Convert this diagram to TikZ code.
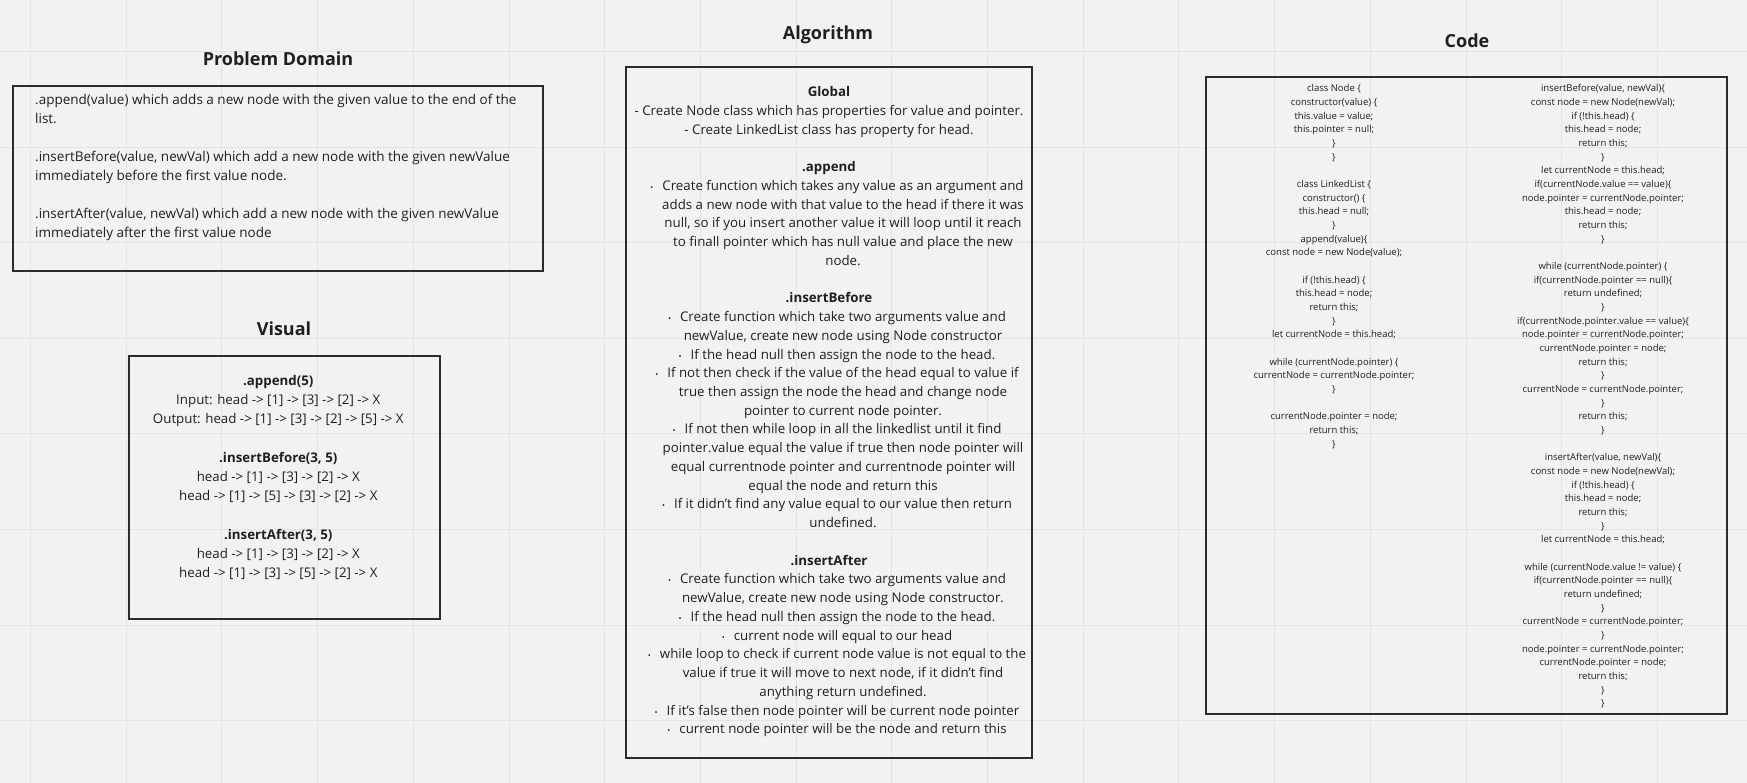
\documentclass[tikz,border=0pt]{standalone}
\usepackage{fontspec}
\setmainfont{Open Sans}
\definecolor{bg}{HTML}{F2F2F2}
\definecolor{gridc}{HTML}{E4E4E4}
\definecolor{ink}{HTML}{1F1F1F}
\definecolor{frame}{HTML}{2B2B2B}
\newcommand\algbul{\llap{\fontsize{8}{8}\selectfont\textbullet\hspace{9pt}}}
\begin{document}
\begin{tikzpicture}[x=1pt,y=-1pt,
  framebox/.style={draw=frame, line width=2pt, inner sep=0pt, outer sep=0pt, anchor=north west},
  titletext/.style={font=\fontsize{18}{22}\selectfont\bfseries, text=ink, inner sep=0pt, anchor=mid},
  bodytext/.style={font=\fontsize{13.3}{16}\selectfont, text=ink, inner sep=0pt, anchor=mid},
  boldtext/.style={font=\fontsize{13.3}{16}\selectfont\bfseries, text=ink, inner sep=0pt, anchor=mid},
  pdtext/.style={font=\fontsize{13.5}{16}\selectfont, text=ink, inner sep=0pt, anchor=mid west},
  codetext/.style={font=\fontsize{9.5}{11}\selectfont, text=ink, inner sep=0pt, anchor=mid}]
\useasboundingbox (0,0) rectangle (1747,783);
\fill[bg] (0,0) rectangle (1747,783);
% grid
\foreach \g in {0,...,17} \draw[gridc, line width=1pt] ({30.5+95.7*\g},0) -- ({30.5+95.7*\g},783);
\foreach \g in {0,...,7} \draw[gridc, line width=1pt] (0,{51.7+95.55*\g}) -- (1747,{51.7+95.55*\g});

% titles
\node[titletext] (tpd) at (278,63) {Problem Domain};
\node[titletext] (tvis) at (284,333) {Visual};
\node[titletext] (talg) at (828,37) {Algorithm};
\node[titletext] (tcode) at (1467,44.5) {Code};

% frames
\node[framebox, minimum width=530.5pt, minimum height=185pt] (pdbox) at (12.6,86) {};
\node[framebox, minimum width=311pt, minimum height=263pt] (visbox) at (129,356) {};
\node[framebox, minimum width=406pt, minimum height=691pt] (algbox) at (626,67) {};
\node[framebox, minimum width=521.5pt, minimum height=637pt] (codebox) at (1205.5,77) {};

% problem domain
\foreach \yy/\t [count=\i] in {
  102/{.append(value) which adds a new node with the given value to the end of the},
  121/{list.},
  159/{.insertBefore(value, newVal) which add a new node with the given newValue},
  178/{immediately before the first value node.},
  216/{.insertAfter(value, newVal) which add a new node with the given newValue},
  235/{immediately after the first value node}}
  \node[pdtext] (pd\i) at (35,\yy) {\t};

% visual
\foreach \yy/\t [count=\i] in {
  383/{.append(5)}, 459.8/{.insertBefore(3, 5)}, 537/{.insertAfter(3, 5)}}
  \node[boldtext] (vh\i) at (278.3,\yy) {\t};
\foreach \yy/\t [count=\i] in {
  402/{Input: head -> [1] -> [3] -> [2] -> X},
  421/{Output: head -> [1] -> [3] -> [2] -> [5] -> X},
  479/{head -> [1] -> [3] -> [2] -> X},
  498/{head -> [1] -> [5] -> [3] -> [2] -> X},
  556/{head -> [1] -> [3] -> [2] -> X},
  575/{head -> [1] -> [3] -> [5] -> [2] -> X}}
  \node[bodytext] (vl\i) at (278.3,\yy) {\t};

% algorithm
\foreach \k/\t in {0/{Global}, 4/{.append}, 11/{.insertBefore}, 25/{.insertAfter}}
  \node[boldtext] (ah\k) at (829,{94+18.74*\k}) {\t};
\foreach \k/\t in {
  1/{- Create Node class which has properties for value and pointer.},
  2/{- Create LinkedList class has property for head.}}
  \node[bodytext] (ag\k) at (829,{94+18.74*\k}) {\t};
\foreach \k/\t in {
  5/{\algbul Create function which takes any value as an argument and},
  6/{adds a new node with that value to the head if there it was},
  7/{null, so if you insert another value it will loop until it reach},
  8/{to finall pointer which has null value and place the new},
  9/{node.},
  12/{\algbul Create function which take two arguments value and},
  13/{newValue, create new node using Node constructor},
  14/{\algbul If the head null then assign the node to the head.},
  15/{\algbul If not then check if the value of the head equal to value if},
  16/{true then assign the node the head and change node},
  17/{pointer to current node pointer.},
  18/{\algbul If not then while loop in all the linkedlist until it find},
  19/{pointer.value equal the value if true then node pointer will},
  20/{equal currentnode pointer and currentnode pointer will},
  21/{equal the node and return this},
  22/{\algbul If it didn't find any value equal to our value then return},
  23/{undefined.},
  26/{\algbul Create function which take two arguments value and},
  27/{newValue, create new node using Node constructor.},
  28/{\algbul If the head null then assign the node to the head.},
  29/{\algbul current node will equal to our head},
  30/{\algbul while loop to check if current node value is not equal to the},
  31/{value if true it will move to next node, if it didn't find},
  32/{anything return undefined.},
  33/{\algbul If it's false then node pointer will be current node pointer},
  34/{\algbul current node pointer will be the node and return this}}
  \node[bodytext] (al\k) at (843,{94+18.74*\k}) {\t};

% code left column
\foreach \k/\t in {
  0/{class Node \{}, 1/{constructor(value) \{}, 2/{this.value = value;},
  3/{this.pointer = null;}, 4/{\}}, 5/{\}},
  7/{class LinkedList \{}, 8/{constructor() \{}, 9/{this.head = null;}, 10/{\}},
  11/{append(value)\{}, 12/{const node = new Node(value);},
  14/{if (!this.head) \{}, 15/{this.head = node;}, 16/{return this;}, 17/{\}},
  18/{let currentNode = this.head;},
  20/{while (currentNode.pointer) \{}, 21/{currentNode = currentNode.pointer;}, 22/{\}},
  24/{currentNode.pointer = node;}, 25/{return this;}, 26/{\}}}
  \node[codetext] (cl\k) at (1334,{89+13.67*\k}) {\t};

% code right column
\foreach \k/\t in {
  0/{insertBefore(value, newVal)\{}, 1/{const node = new Node(newVal);},
  2/{if (!this.head) \{}, 3/{this.head = node;}, 4/{return this;}, 5/{\}},
  6/{let currentNode = this.head;}, 7/{if(currentNode.value == value)\{},
  8/{node.pointer = currentNode.pointer;}, 9/{this.head = node;}, 10/{return this;}, 11/{\}},
  13/{while (currentNode.pointer) \{}, 14/{if(currentNode.pointer == null)\{},
  15/{return undefined;}, 16/{\}}, 17/{if(currentNode.pointer.value == value)\{},
  18/{node.pointer = currentNode.pointer;}, 19/{currentNode.pointer = node;},
  20/{return this;}, 21/{\}}, 22/{currentNode = currentNode.pointer;}, 23/{\}},
  24/{return this;}, 25/{\}},
  27/{insertAfter(value, newVal)\{}, 28/{const node = new Node(newVal);},
  29/{if (!this.head) \{}, 30/{this.head = node;}, 31/{return this;}, 32/{\}},
  33/{let currentNode = this.head;},
  35/{while (currentNode.value != value) \{}, 36/{if(currentNode.pointer == null)\{},
  37/{return undefined;}, 38/{\}}, 39/{currentNode = currentNode.pointer;}, 40/{\}},
  41/{node.pointer = currentNode.pointer;}, 42/{currentNode.pointer = node;},
  43/{return this;}, 44/{\}}, 45/{\}}}
  \node[codetext] (cr\k) at (1603,{89+13.67*\k}) {\t};
\end{tikzpicture}
\end{document}
